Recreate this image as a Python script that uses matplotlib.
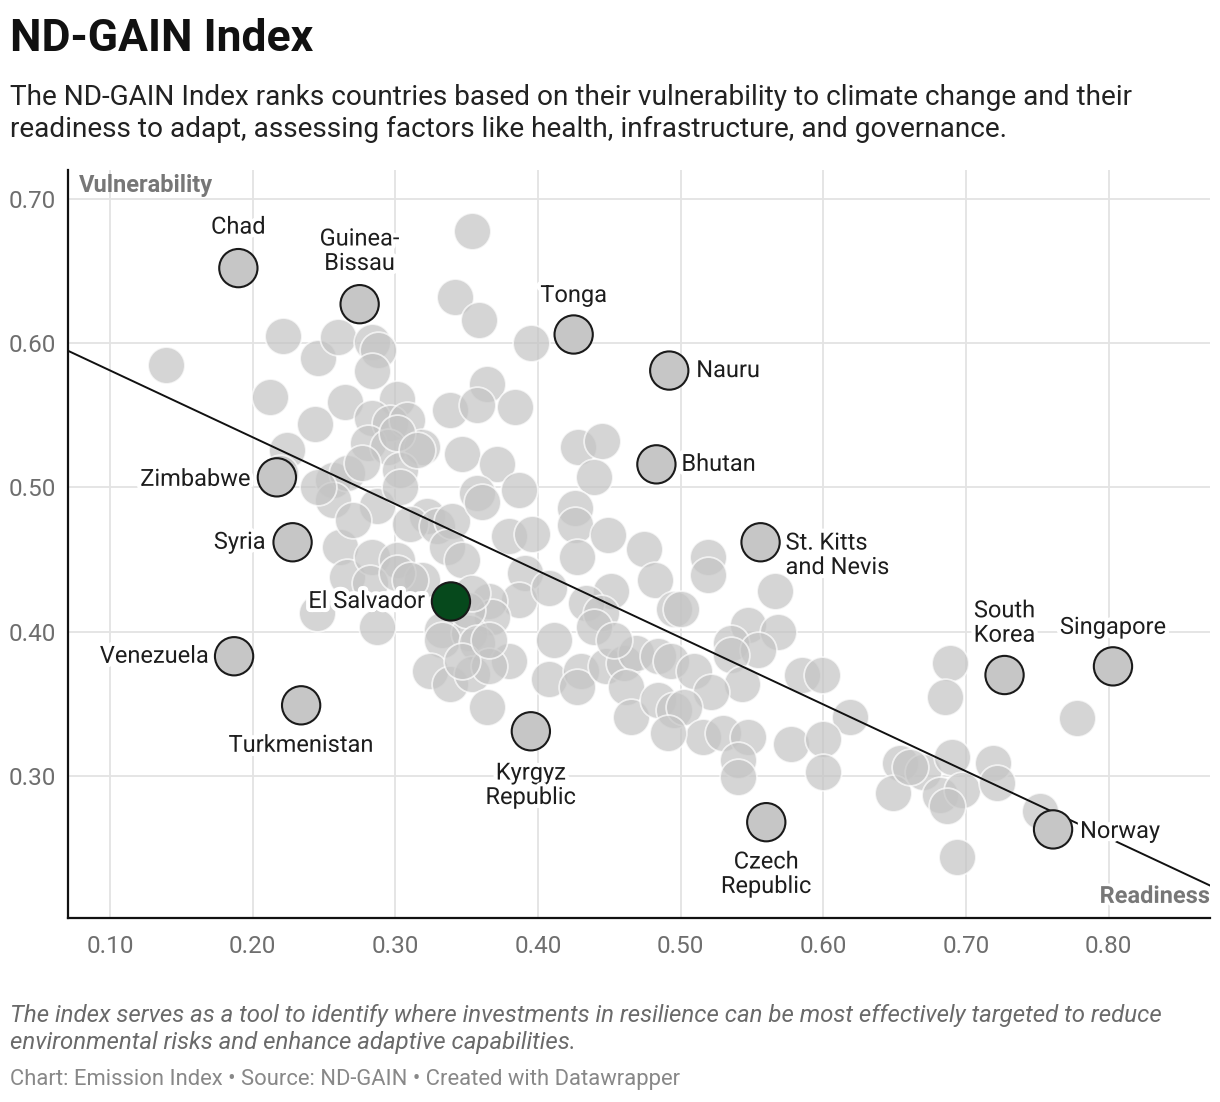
import numpy as np
import matplotlib.pyplot as plt
import matplotlib.patheffects as pe

plt.rcParams['font.family'] = ['Roboto', 'DejaVu Sans']

# Readiness (x) and vulnerability (y) of the unlabelled countries
readiness = [
    0.139, 0.221, 0.246, 0.260, 0.284, 0.288, 0.284, 0.212, 0.265, 0.301,
    0.244, 0.284, 0.296, 0.308, 0.281, 0.295, 0.319, 0.224, 0.338, 0.342,
    0.354, 0.359, 0.395, 0.364, 0.357, 0.384, 0.347, 0.371, 0.428, 0.445,
    0.219, 0.301, 0.256, 0.266, 0.256, 0.277, 0.287, 0.303, 0.303, 0.315,
    0.322, 0.310, 0.329, 0.340, 0.336, 0.347, 0.261, 0.266, 0.284, 0.301,
    0.319, 0.282, 0.245, 0.287, 0.380, 0.396, 0.391, 0.387, 0.366, 0.368,
    0.333, 0.352, 0.357, 0.361, 0.387, 0.301, 0.350, 0.354, 0.408, 0.246,
    0.333, 0.357, 0.380, 0.324, 0.338, 0.354, 0.366, 0.364, 0.347, 0.411,
    0.408, 0.430, 0.427, 0.448, 0.460, 0.469, 0.484, 0.493, 0.462, 0.465,
    0.484, 0.495, 0.439, 0.426, 0.426, 0.427, 0.449, 0.474, 0.482, 0.451,
    0.434, 0.444, 0.439, 0.453, 0.495, 0.310, 0.366, 0.519, 0.519, 0.500,
    0.566, 0.547, 0.568, 0.535, 0.554, 0.535, 0.585, 0.599, 0.543, 0.619,
    0.577, 0.600, 0.600, 0.509, 0.521, 0.502, 0.516, 0.530, 0.547, 0.540,
    0.540, 0.491, 0.689, 0.685, 0.654, 0.649, 0.670, 0.690, 0.682, 0.697,
    0.719, 0.722, 0.752, 0.694, 0.778, 0.661, 0.687, 0.270,
]
vulnerability = [
    0.585, 0.605, 0.590, 0.604, 0.601, 0.595, 0.581, 0.563, 0.559, 0.561,
    0.544, 0.548, 0.545, 0.547, 0.531, 0.528, 0.528, 0.526, 0.554, 0.632,
    0.678, 0.616, 0.600, 0.572, 0.557, 0.556, 0.523, 0.516, 0.528, 0.532,
    0.510, 0.538, 0.505, 0.510, 0.491, 0.517, 0.487, 0.512, 0.500, 0.526,
    0.480, 0.475, 0.473, 0.477, 0.459, 0.450, 0.459, 0.438, 0.452, 0.450,
    0.436, 0.434, 0.413, 0.403, 0.466, 0.468, 0.441, 0.422, 0.421, 0.410,
    0.401, 0.399, 0.496, 0.490, 0.498, 0.441, 0.415, 0.427, 0.430, 0.500,
    0.394, 0.392, 0.380, 0.373, 0.364, 0.371, 0.376, 0.348, 0.380, 0.394,
    0.367, 0.373, 0.362, 0.376, 0.378, 0.385, 0.383, 0.380, 0.362, 0.341,
    0.353, 0.346, 0.507, 0.486, 0.474, 0.452, 0.467, 0.457, 0.436, 0.428,
    0.420, 0.413, 0.403, 0.394, 0.416, 0.436, 0.394, 0.452, 0.439, 0.416,
    0.428, 0.405, 0.400, 0.392, 0.387, 0.384, 0.370, 0.370, 0.364, 0.341,
    0.322, 0.326, 0.303, 0.373, 0.358, 0.348, 0.327, 0.330, 0.327, 0.311,
    0.299, 0.330, 0.378, 0.355, 0.309, 0.288, 0.303, 0.313, 0.287, 0.290,
    0.309, 0.295, 0.276, 0.244, 0.340, 0.306, 0.279, 0.4775,
]

# Labelled countries
names = ['Chad', 'Guinea-\nBissau', 'Tonga', 'Nauru', 'Bhutan', 'St. Kitts\nand Nevis',
         'Zimbabwe', 'Syria', 'El Salvador', 'Venezuela', 'Turkmenistan',
         'Kyrgyz\nRepublic', 'Czech\nRepublic', 'South\nKorea', 'Singapore', 'Norway']
names_x = [0.190, 0.275, 0.425, 0.492, 0.483, 0.556, 0.217, 0.228, 0.339, 0.187,
           0.234, 0.395, 0.560, 0.727, 0.803, 0.761]
names_y = [0.652, 0.627, 0.606, 0.581, 0.516, 0.462, 0.507, 0.462, 0.421, 0.383,
           0.349, 0.331, 0.268, 0.370, 0.376, 0.263]
# label placement: (dx, dy) in pixels and horizontal alignment
label_pos = [(0, 41, 'center'), (0, 53, 'center'), (0, 39, 'center'), (27, 0, 'left'),
             (25, 0, 'left'), (25, -13, 'left'), (-26, -2, 'right'), (-27, 0, 'right'),
             (-26, 0, 'right'), (-25, 0, 'right'), (0, -40, 'center'), (0, -54, 'center'),
             (0, -52, 'center'), (0, 52, 'center'), (0, 39, 'center'), (27, -2, 'left')]

# trend line
slope = -0.463
intercept = 0.6274

fig = plt.figure(figsize=(12.2, 11.02), dpi=100)
ax = fig.add_axes([68/1220, 1-918/1102, (1210-68)/1220, (918-170)/1102])

ax.set_xlim(0.0706, 0.871)
ax.set_ylim(0.2016, 0.720)
ax.set_xticks(np.arange(0.1, 0.81, 0.1))
ax.set_yticks(np.arange(0.3, 0.71, 0.1))
ax.xaxis.set_major_formatter(plt.FormatStrFormatter('%.2f'))
ax.yaxis.set_major_formatter(plt.FormatStrFormatter('%.2f'))
ax.grid(True, color='#e3e3e3', linewidth=1.3, zorder=0)
ax.set_axisbelow(True)
ax.tick_params(length=0, labelsize=17.5, labelcolor='#6e6e6e')
ax.tick_params(axis='x', pad=12)
ax.tick_params(axis='y', pad=9)
for s in ['top', 'right']:
    ax.spines[s].set_visible(False)
for s in ['left', 'bottom']:
    ax.spines[s].set_linewidth(1.6)
    ax.spines[s].set_color('#111111')

ax.scatter(readiness, vulnerability, s=700, c='#c4c4c4', alpha=0.7,
           edgecolors='white', linewidths=1.3, zorder=2)

xs = np.array(ax.get_xlim())
ax.plot(xs, intercept + slope * xs, color='#111111', linewidth=1.4, zorder=3)

colors = ['#06491c' if n == 'El Salvador' else '#c6c6c6' for n in names]
ax.scatter(names_x, names_y, s=760, c=colors, edgecolors='#1a1a1a',
           linewidths=1.5, zorder=4)

halo = [pe.withStroke(linewidth=6, foreground='white')]
for n, x, y, (dx, dy, ha) in zip(names, names_x, names_y, label_pos):
    ax.annotate(n, (x, y), xytext=(dx, dy), textcoords='offset pixels',
                ha=ha, va='center', fontsize=17, color='#1d1d1d',
                linespacing=1.08, multialignment=ha,
                path_effects=halo, zorder=5)

ax.text(0.078, 0.7175, 'Vulnerability', ha='left', va='top',
        fontsize=17, fontweight='bold', color='#777777', zorder=6)
ax.text(0.871, 0.2016 + 0.007, 'Readiness', ha='right', va='bottom',
        fontsize=17, fontweight='bold', color='#777777', zorder=6,
        path_effects=[pe.withStroke(linewidth=4, foreground='white')])

fig.text(10/1220, 1-18/1102, 'ND-GAIN Index', ha='left', va='top',
         fontsize=32, fontweight='bold', color='#111111')
fig.text(10/1220, 1-84/1102,
         'The ND-GAIN Index ranks countries based on their vulnerability to climate change and their\n'
         'readiness to adapt, assessing factors like health, infrastructure, and governance.',
         ha='left', va='top', fontsize=20.2, color='#222222', linespacing=1.25)
fig.text(10/1220, 1-1004/1102,
         'The index serves as a tool to identify where investments in resilience can be most effectively targeted to reduce\n'
         'environmental risks and enhance adaptive capabilities.',
         ha='left', va='top', fontsize=17.3, style='italic', color='#6a6a6a', linespacing=1.2)
fig.text(10/1220, 1-1069/1102,
         'Chart: Emission Index \u2022 Source: ND-GAIN \u2022 Created with Datawrapper',
         ha='left', va='top', fontsize=15.8, color='#888888')

fig.savefig('out.png', dpi=100)
